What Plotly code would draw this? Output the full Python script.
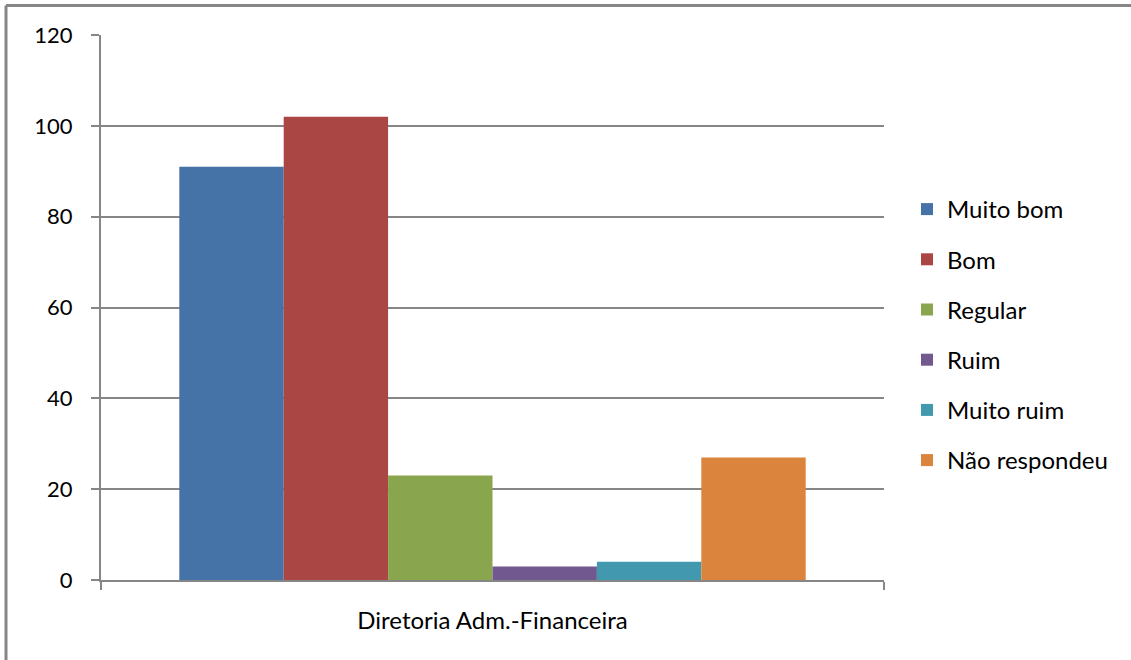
import plotly.graph_objects as go

category = ["Diretoria Adm.-Financeira"]
series_names = ["Muito bom", "Bom", "Regular", "Ruim", "Muito ruim", "Não respondeu"]
series_values = [91, 102, 23, 3, 4, 27]
colors = ["#4572A7", "#AA4643", "#89A54E", "#71588F", "#4198AF", "#DB843D"]
y_ticks = [0, 20, 40, 60, 80, 100, 120]

FONT = "Lato"
fig = go.Figure()
for i, (name, val, col) in enumerate(zip(series_names, series_values, colors)):
    fig.add_trace(go.Bar(x=category, y=[val], name=name, marker_color=col,
                         marker_line_width=0, legendgroup=f"g{i}"))

W, H = 1131, 660
L, R, T, B = 101, 884, 35, 580
pw, ph = R - L, B - T

fig.update_layout(
    width=W, height=H,
    margin=dict(l=L, r=W - R, t=T, b=H - B, pad=0),
    paper_bgcolor="white", plot_bgcolor="white",
    barmode="group", bargap=0.2, bargroupgap=0,
    font=dict(family=FONT, size=24, color="black"),
    legend=dict(x=(907 - L) / pw, y=(B - 335) / ph, xanchor="left", yanchor="middle",
                font=dict(family=FONT, size=24, color="black"),
                tracegroupgap=16, itemwidth=30),
    showlegend=True,
)
fig.update_xaxes(showline=True, linecolor="#868686", linewidth=2,
                 ticks="outside", ticklen=8, tickcolor="#868686", tickwidth=2,
                 showgrid=False, tickfont=dict(size=24),
                 tickson="boundaries", ticklabelstandoff=18)
fig.update_yaxes(range=[0, 120], tickvals=y_ticks, showline=True, linecolor="#868686", linewidth=2,
                 ticks="outside", ticklen=8, tickcolor="#868686", tickwidth=2,
                 showgrid=True, gridcolor="#868686", gridwidth=1.5,
                 tickfont=dict(size=22), zeroline=False, ticklabelstandoff=14)

# outer chart border (only top and left edges visible in the frame)
bx0, by0 = 6, 5.5
fig.add_shape(type="line", xref="paper", yref="paper",
              x0=(bx0 - L) / pw, x1=(W + 5 - L) / pw,
              y0=(B - by0) / ph, y1=(B - by0) / ph,
              line=dict(color="#868686", width=3), layer="below")
fig.add_shape(type="line", xref="paper", yref="paper",
              x0=(bx0 - L) / pw, x1=(bx0 - L) / pw,
              y0=(B - by0) / ph, y1=(B - H - 5) / ph,
              line=dict(color="#868686", width=3), layer="below")

fig.write_html("out.html", config={"displayModeBar": False},
               post_script="document.body.style.margin='0px';")
